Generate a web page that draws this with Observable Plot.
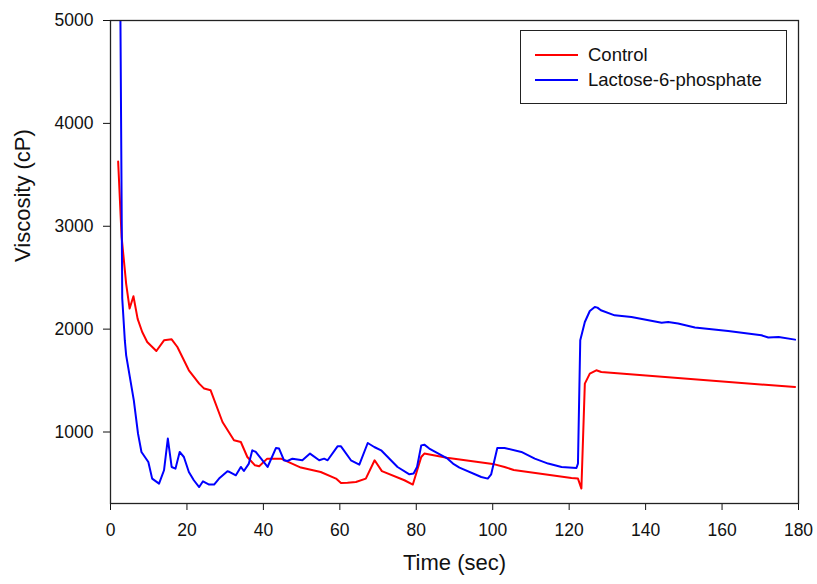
<!DOCTYPE html>
<html>
<head>
<meta charset="utf-8">
<script src="https://cdn.jsdelivr.net/npm/d3@7"></script>
<script src="https://cdn.jsdelivr.net/npm/@observablehq/plot@0.6"></script>
<style>
  html, body { margin: 0; padding: 0; background: #fff; }
  #wrap { position: relative; width: 817px; height: 584px; font-family: "Liberation Sans", Arial, sans-serif; }
  #legend { position: absolute; border: 1.3px solid #222; box-sizing: border-box; background: #fff; }
  .lg-line { position: absolute; height: 2px; }
  .lg-text { position: absolute; font-size: 18.5px; color: #111; line-height: 1; transform: translateY(-50%); white-space: nowrap; }
</style>
</head>
<body>
<div id="wrap"></div>
<script>
const seriesNames = ["Control", "Lactose-6-phosphate"];
const seriesColors = ["#ff0000", "#0000ff"];

const controlTime = [2.0, 2.9, 4.1, 5.0, 6.0, 7.1, 8.3, 9.6, 12.0, 14.0, 16.0, 17.5, 20.5, 23.2, 24.5, 26.2, 29.3, 32.3, 34.1, 35.8, 37.8, 38.9, 41.0, 44.6, 49.8, 55.0, 59.0, 60.3, 62.0, 64.2, 66.8, 69.1, 71.0, 76.9, 79.1, 81.3, 82.1, 88.0, 100.0, 103.1, 105.5, 120.6, 122.3, 123.2, 124.1, 125.4, 127.1, 128.4, 179.1];
const controlVisc = [3630, 2900, 2440, 2200, 2320, 2100, 1972, 1875, 1787, 1891, 1901, 1826, 1600, 1470, 1422, 1405, 1097, 919, 903, 757, 676, 667, 741, 741, 654, 611, 547, 504, 507, 514, 547, 725, 620, 531, 489, 757, 790, 750, 690, 660, 630, 553, 547, 450, 1470, 1568, 1600, 1583, 1437];

const lactoseTime = [2.6, 3.07, 3.75, 4.1, 6.1, 7.2, 8.1, 9.9, 10.9, 12.7, 14.0, 15.0, 16.0, 17.0, 18.1, 19.2, 20.5, 21.8, 23.2, 24.2, 25.8, 27.1, 28.4, 30.6, 31.2, 32.8, 34.1, 34.9, 36.2, 37.1, 38.0, 41.1, 43.3, 44.1, 45.4, 46.3, 47.6, 50.2, 52.2, 54.6, 55.9, 56.8, 59.4, 60.3, 62.9, 65.1, 67.3, 69.0, 70.8, 75.1, 78.2, 79.3, 80.2, 81.3, 82.1, 83.4, 88.2, 89.6, 91.3, 97.0, 98.7, 99.6, 101.2, 103.1, 107.5, 111.0, 114.5, 118.0, 121.9, 122.3, 122.9, 124.1, 125.4, 126.7, 127.4, 128.3, 131.9, 136.3, 144.2, 145.9, 148.5, 152.9, 161.6, 170.3, 172.1, 174.8, 179.1];
const lactoseVisc = [5000, 2300, 1890, 1745, 1308, 984, 806, 708, 547, 498, 628, 936, 660, 644, 806, 757, 611, 531, 465, 521, 489, 489, 547, 618, 611, 579, 660, 621, 693, 822, 806, 660, 845, 839, 725, 718, 741, 725, 790, 725, 741, 725, 861, 861, 725, 683, 893, 854, 822, 660, 589, 596, 660, 870, 877, 839, 741, 693, 654, 563, 547, 589, 845, 845, 806, 741, 693, 660, 650, 693, 1891, 2069, 2176, 2215, 2209, 2183, 2134, 2118, 2063, 2069, 2054, 2015, 1982, 1940, 1918, 1923, 1898];

const xTicks = [0, 20, 40, 60, 80, 100, 120, 140, 160, 180];
const yTicks = [1000, 2000, 3000, 4000, 5000];
const xTitle = "Time (sec)";
const yTitle = "Viscosity (cP)";

const rows = [];
controlTime.forEach((t, i) => rows.push({series: seriesNames[0], t, v: controlVisc[i]}));
lactoseTime.forEach((t, i) => rows.push({series: seriesNames[1], t, v: lactoseVisc[i]}));

const chart = Plot.plot({
  width: 817,
  height: 584,
  marginLeft: 110,
  marginRight: 19,
  marginTop: 20,
  marginBottom: 81,
  style: {fontFamily: "'Liberation Sans', Arial, sans-serif", fontSize: "17.5px", color: "#111", background: "#fff"},
  x: {domain: [0, 180], ticks: xTicks, tickSize: 7, tickPadding: 13, label: null, tickFormat: d3.format("d")},
  y: {domain: [305, 5000], ticks: yTicks, tickSize: 7, tickPadding: 10, label: null, tickFormat: d3.format("d")},
  color: {domain: seriesNames, range: seriesColors},
  marks: [
    Plot.line(rows, {x: "t", y: "v", z: "series", stroke: "series", strokeWidth: 2, clip: true}),
    Plot.frame({stroke: "#222", strokeWidth: 1.3}),
    Plot.text([yTitle], {frameAnchor: "left", rotate: -90, dx: -88, fontSize: 22, fill: "#111"}),
    Plot.text([xTitle], {frameAnchor: "bottom", dy: 66, fontSize: 22, fill: "#111"})
  ]
});

const wrap = document.getElementById("wrap");
wrap.appendChild(chart);

const legend = document.createElement("div");
legend.id = "legend";
legend.style.left = "520px";
legend.style.top = "30px";
legend.style.width = "267px";
legend.style.height = "74px";
seriesNames.forEach((name, i) => {
  const cy = 24 + i * 25;
  const ln = document.createElement("div");
  ln.className = "lg-line";
  ln.style.left = "14px";
  ln.style.width = "43px";
  ln.style.top = (cy - 1) + "px";
  ln.style.background = seriesColors[i];
  legend.appendChild(ln);
  const tx = document.createElement("div");
  tx.className = "lg-text";
  tx.style.left = "67px";
  tx.style.top = cy + "px";
  tx.textContent = name;
  legend.appendChild(tx);
});
wrap.appendChild(legend);
</script>
</body>
</html>
